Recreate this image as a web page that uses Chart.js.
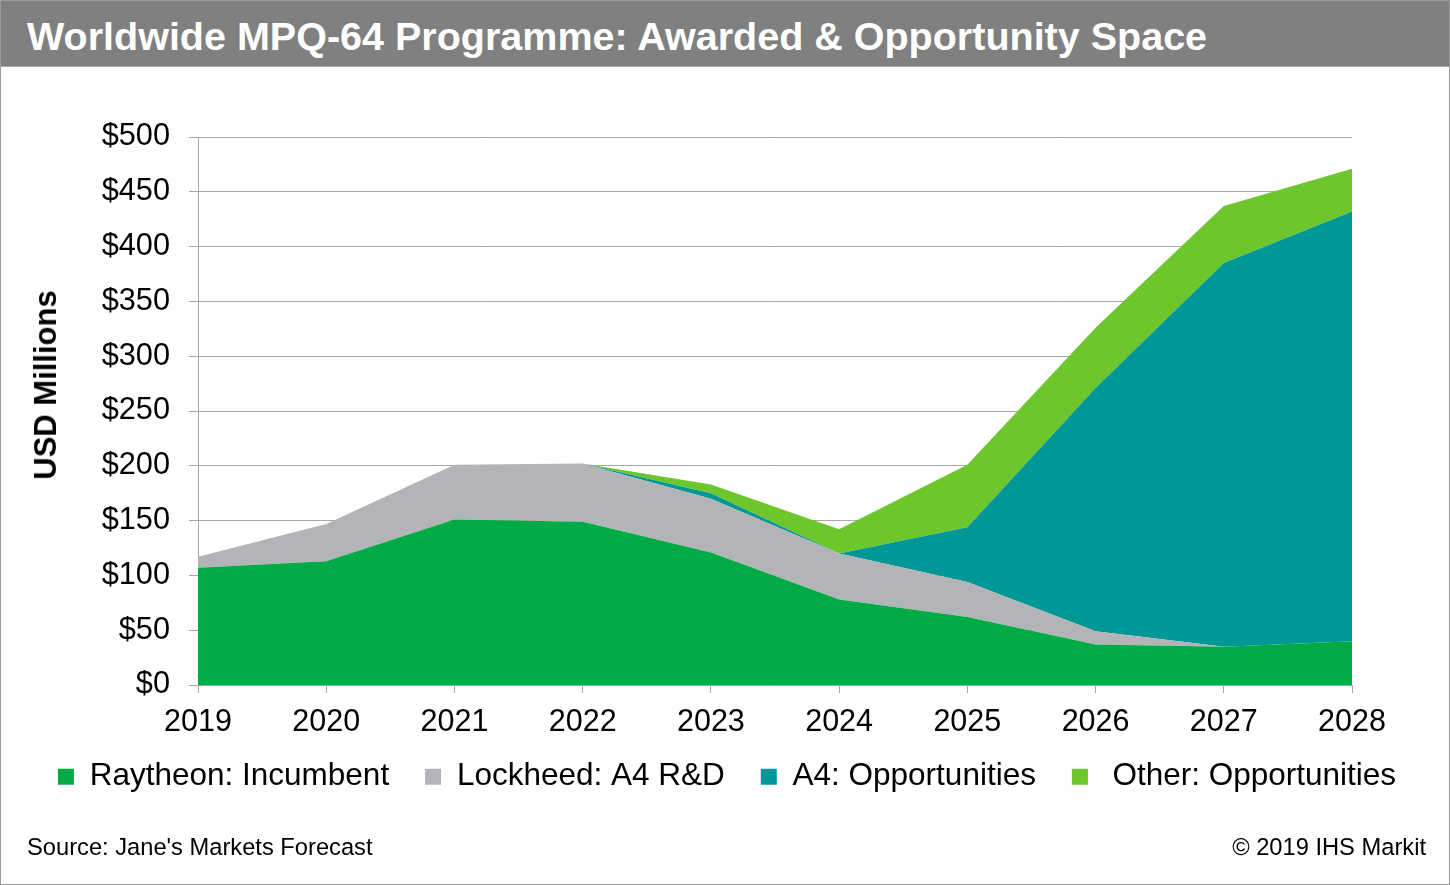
<!DOCTYPE html>
<html>
<head>
<meta charset="utf-8">
<script src="https://cdn.jsdelivr.net/npm/chart.js@4/dist/chart.umd.min.js"></script>
<style>
  html, body { margin: 0; padding: 0; background: #fff; }
  #frame { position: relative; width: 1448px; height: 883px; border: 1px solid #9a9a9a; overflow: hidden; font-family: "Liberation Sans", Arial, sans-serif; }
  #titlebar { position: absolute; left: 0; top: 0; width: 1448px; height: 65px; background: #808080; border-bottom: 1px solid #a8a8a8; }
  #title { position: absolute; left: 26px; top: 12px; color: #fff; font-weight: bold; font-size: 39.5px; line-height: 46px; white-space: nowrap; }
  #chartwrap { position: absolute; left: -1px; top: -1px; width: 1450px; height: 885px; }
  #ytitle { position: absolute; left: 45px; top: 384px; transform: translate(-50%, -50%) rotate(-90deg); font-weight: bold; font-size: 31px; color: #000; white-space: nowrap; }
  #source { position: absolute; left: 26px; top: 833px; font-size: 23.7px; color: #000; white-space: nowrap; }
  #copy { position: absolute; right: 23px; top: 833px; font-size: 23.7px; color: #000; white-space: nowrap; }
</style>
</head>
<body>
<div id="frame">
  <div id="chartwrap"><canvas id="c" width="1450" height="885"></canvas></div>
  <div id="titlebar"><div id="title">Worldwide MPQ-64 Programme: Awarded &amp; Opportunity Space</div></div>
  <div id="ytitle">USD Millions</div>
  <div id="source">Source: Jane's Markets Forecast</div>
  <div id="copy">© 2019 IHS Markit</div>
</div>
<script>
const years = ['2019','2020','2021','2022','2023','2024','2025','2026','2027','2028'];
const raytheon = [107, 113, 151, 149, 121, 78, 62, 37, 35, 40];
const lockheed = [10, 34, 50, 53, 49, 42, 32, 12, 0, 0];
const a4Opps   = [0, 0, 0, 0, 5, 0, 50, 222, 350, 392];
const otherOpps = [0, 0, 0, 0, 8, 22, 57, 55, 52, 39];
const seriesNames = ['Raytheon: Incumbent', 'Lockheed: A4 R&D', 'A4: Opportunities', ' Other: Opportunities'];
const seriesColors = ['#00AA44', '#B3B4B7', '#009797', '#6DC72C'];

const seriesData = [raytheon, lockheed, a4Opps, otherOpps];
const datasets = seriesData.map((d, i) => ({
  label: seriesNames[i],
  data: d,
  yAxisID: 'y',
  backgroundColor: seriesColors[i],
  borderColor: seriesColors[i],
  borderWidth: 0,
  pointRadius: 0,
  pointHoverRadius: 0,
  tension: 0,
  fill: i === 0 ? 'origin' : '-1'
}));

// nudges the legend row to sit where the reference legend sits
const legendShift = {
  id: 'legendShift',
  afterLayout(chart) {
    const l = chart.legend;
    if (!l) return;
    l.top -= 20; l.bottom -= 20;
    l.left += 2; l.right += 2;
  }
};

const FONT = '"Liberation Sans", Arial, sans-serif';
const gridColor = '#A8A8A8';
new Chart(document.getElementById('c'), {
  type: 'line',
  data: { labels: years, datasets },
  plugins: [legendShift],
  options: {
    responsive: false,
    animation: false,
    events: [],
    layout: { padding: { left: 0, right: 0, top: 137, bottom: 62.5 } },
    plugins: {
      tooltip: { enabled: false },
      legend: {
        position: 'bottom',
        labels: {
          color: '#000',
          font: { family: FONT, size: 31.5 },
          boxWidth: 16,
          boxHeight: 16,
          padding: 36
        }
      }
    },
    scales: {
      x: {
        stacked: true,
        offset: false,
        grid: { drawOnChartArea: false, drawTicks: true, tickLength: 8, color: gridColor },
        border: { display: true, color: gridColor },
        ticks: { color: '#000', font: { family: FONT, size: 30.5 }, padding: 11, maxRotation: 0, autoSkip: false },
        afterFit: (s) => { s.height = 60; }
      },
      y: {
        stacked: true,
        position: 'left',
        min: 0,
        max: 500,
        grid: { drawOnChartArea: true, drawTicks: true, tickLength: 9, color: gridColor },
        border: { display: true, color: gridColor },
        ticks: {
          stepSize: 50,
          color: '#000',
          font: { family: FONT, size: 30.7 },
          padding: 19,
          callback: (v) => '$' + v
        },
        afterFit: (s) => { s.width = 198; }
      },
      yRight: {
        position: 'right',
        display: true,
        grid: { display: false },
        border: { display: false },
        ticks: { display: false },
        afterFit: (s) => { s.width = 98; }
      }
    }
  }
});
</script>
</body>
</html>
